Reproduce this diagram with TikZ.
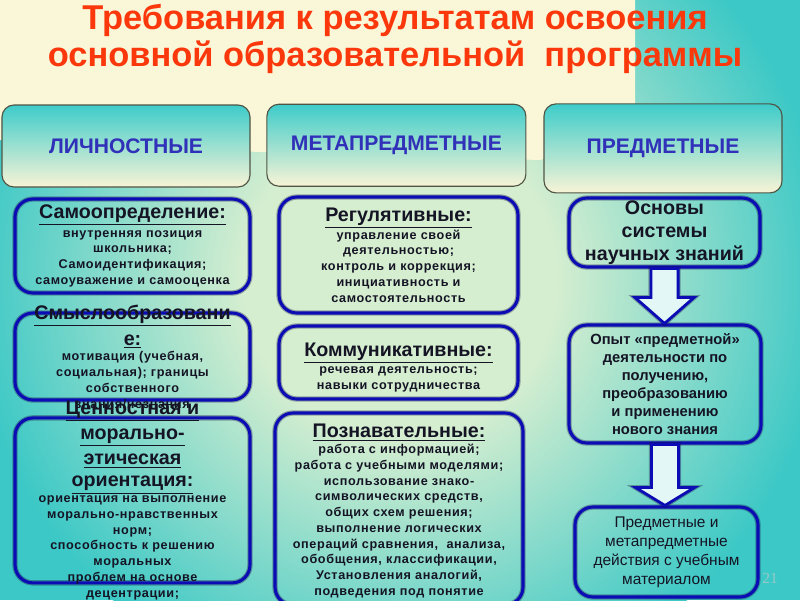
\documentclass[tikz,border=0pt]{standalone}
\usepackage{fontspec}
\setmainfont{Liberation Sans}
\newfontfamily\bodyfont[LetterSpace=5]{Liberation Sans}
\newfontfamily\numfont{Liberation Serif}
\usetikzlibrary{positioning,calc}
\definecolor{bgcream}{RGB}{250,246,216}
\definecolor{bgteal}{RGB}{60,200,198}
\definecolor{bglight}{RGB}{214,238,208}
\definecolor{hdrteal}{RGB}{62,204,202}
\definecolor{hdrcream}{RGB}{248,244,214}
\definecolor{hdrline}{RGB}{80,84,68}
\definecolor{hdrtext}{RGB}{48,48,184}
\definecolor{cardblue}{RGB}{12,12,180}
\definecolor{carddark}{RGB}{20,20,70}
\definecolor{titlered}{RGB}{250,56,12}
\definecolor{inktext}{RGB}{20,20,36}
\definecolor{pagegray}{RGB}{150,200,200}
\pgfdeclareradialshading{bgglow}{\pgfpoint{0bp}{0bp}}{color(0bp)=(bglight); color(9bp)=(bglight); color(25bp)=(bgteal); color(50bp)=(bgteal)}
\tikzset{
  titlestyle/.style={align=center, text=titlered, font=\fontsize{24.5}{26.3}\selectfont\bfseries},
  header/.style={rectangle, rounded corners=3mm, draw=hdrline, line width=0.8pt,
    top color=hdrteal, bottom color=hdrcream, minimum height=2.05cm,
    font=\fontsize{15}{18}\selectfont\bfseries, text=hdrtext},
  card/.style={rectangle, rounded corners=4.5mm, draw=cardblue, line width=2.2pt,
    preaction={draw=carddark, line width=3.8pt, opacity=0.35},
    align=center, text=inktext, inner sep=2pt, font=\cardbody},
  cardtext/.style={align=center, text=inktext, inner sep=0pt, font=\cardbody},
  blockarrow/.style={draw=cardblue, line width=2pt, fill=white!85!bgteal, line join=miter,
    preaction={draw=carddark, line width=3.5pt, opacity=0.35}},
  pagenum/.style={text=pagegray, font=\numfont\fontsize{11}{13}\selectfont}
}
\newcommand{\cardbody}{\bodyfont\fontsize{9}{11.2}\selectfont\bfseries}
\newcommand{\cardhead}[1]{{\normalfont\fontsize{14}{17}\selectfont\bfseries\underline{#1}}}
\newcommand{\hollowarrow}[3]{%
  \draw[blockarrow] ($(#1)+(-0.34,0)$) -- ($(#1 |- #2)+(-0.34,#3)$)
    -- ($(#1 |- #2)+(-0.74,#3)$) -- (#1 |- #2)
    -- ($(#1 |- #2)+(0.74,#3)$) -- ($(#1 |- #2)+(0.34,#3)$)
    -- ($(#1)+(0.34,0)$) -- cycle;}

\begin{document}
\begin{tikzpicture}
  \useasboundingbox (0,0) rectangle (20,-15);
  \begin{scope}
    \clip (0,0) rectangle (20,-15);
    \fill[bgteal] (0,0) rectangle (20,-15);
    \shade[shading=bgglow] (10,-7) circle (10.75cm);
    \fill[bgcream] (0,0) -- (15.875,0) -- (15.875,-3.33) -- (13.5,-4.0)
      -- (6.5,-3.8) -- (0,-3.5) -- cycle;
  \end{scope}

  \node[titlestyle] (title) at (9.875,-0.98)
    {Требования к результатам освоения\\ основной образовательной\ \ программы};

  \node[header, minimum width=6.2cm] (lich) at (3.15,-3.65) {ЛИЧНОСТНЫЕ};
  \node[header, minimum width=6.475cm] (meta) at (9.91,-3.63) {МЕТАПРЕДМЕТНЫЕ};
  \node[header, minimum width=5.95cm, minimum height=2.225cm] (pred) at (16.575,-3.71) {ПРЕДМЕТНЫЕ};

  \node[card, minimum width=5.875cm, minimum height=2.35cm] (samo) at (3.3125,-6.15)
    {\cardhead{Самоопределение:}\\[2pt] внутренняя позиция\\ школьника;\\
     Самоидентификация;\\ самоуважение и самооценка};
  \node[card, minimum width=5.875cm, minimum height=2.175cm] (smysl) at (3.3125,-8.9125) {};
  \node[cardtext] (smysltxt) at (smysl.center)
    {\cardhead{Смыслообразовани}\\[5pt] \cardhead{е:}\\ мотивация (учебная,\\
     социальная); границы\\ собственного\\ знания/незнания};
  \node[card, minimum width=5.875cm, minimum height=4.125cm] (cenn) at (3.3125,-12.51) {};
  \node[cardtext] (cenntxt) at (cenn.center)
    {\cardhead{Ценностная и}\\[4.5pt] \cardhead{морально-}\\[4.5pt] \cardhead{этическая}\\[4.5pt]
     \cardhead{ориентация:}\\ ориентация на выполнение\\ морально-нравственных\\ норм;\\
     способность к решению\\ моральных\\ проблем на основе\\ децентрации;};

  \node[card, minimum width=5.975cm, minimum height=2.9cm] (regul) at (9.9625,-6.375)
    {\cardhead{Регулятивные:}\\ управление своей\\ деятельностью;\\
     контроль и коррекция;\\ инициативность и\\ самостоятельность};
  \node[card, minimum width=5.975cm, minimum height=1.825cm] (komm) at (9.9625,-9.0625) {};
  \node[cardtext] (kommtxt) at ([yshift=-0.12cm]komm.center)
    {\cardhead{Коммуникативные:}\\[1pt] речевая деятельность;\\ навыки сотрудничества};
  \node[card, minimum width=6.2cm, minimum height=4.8cm] (pozn) at (9.975,-12.725) {};
  \node[cardtext] (pozntxt) at ([yshift=-0.05cm]pozn.center)
    {\cardhead{Познавательные:}\\ работа с информацией;\\ работа с учебными моделями;\\
     использование знако-\\ символических средств,\\ общих схем решения;\\
     выполнение логических\\ операций сравнения,\ \ анализа,\\ обобщения, классификации,\\
     Установления аналогий,\\ подведения под понятие};

  \node[card, minimum width=4.775cm, minimum height=1.725cm] (osn) at (16.6125,-5.8125) {};
  \node[cardtext, font=\fontsize{14}{16.5}\selectfont\bfseries] (osntxt) at (osn.center)
    {Основы\\ системы\\ научных знаний};
  \node[card, minimum width=4.8cm, minimum height=2.95cm, font=\fontsize{10.5}{12.8}\selectfont\bfseries]
    (opyt) at (16.625,-9.6)
    {Опыт «предметной»\\ деятельности по\\ получению,\\ преобразованию\\ и применению\\ нового знания};
  \node[card, minimum width=4.575cm, minimum height=2.25cm, font=\fontsize{11}{13.5}\selectfont]
    (predm) at (16.6625,-13.8)
    {Предметные и\\ метапредметные\\ действия с учебным\\ материалом};

  \hollowarrow{osn.south}{opyt.north}{0.65}
  \hollowarrow{opyt.south}{predm.north}{0.45}

  \node[pagenum] (page) at (19.25,-14.45) {21};
\end{tikzpicture}
\end{document}
